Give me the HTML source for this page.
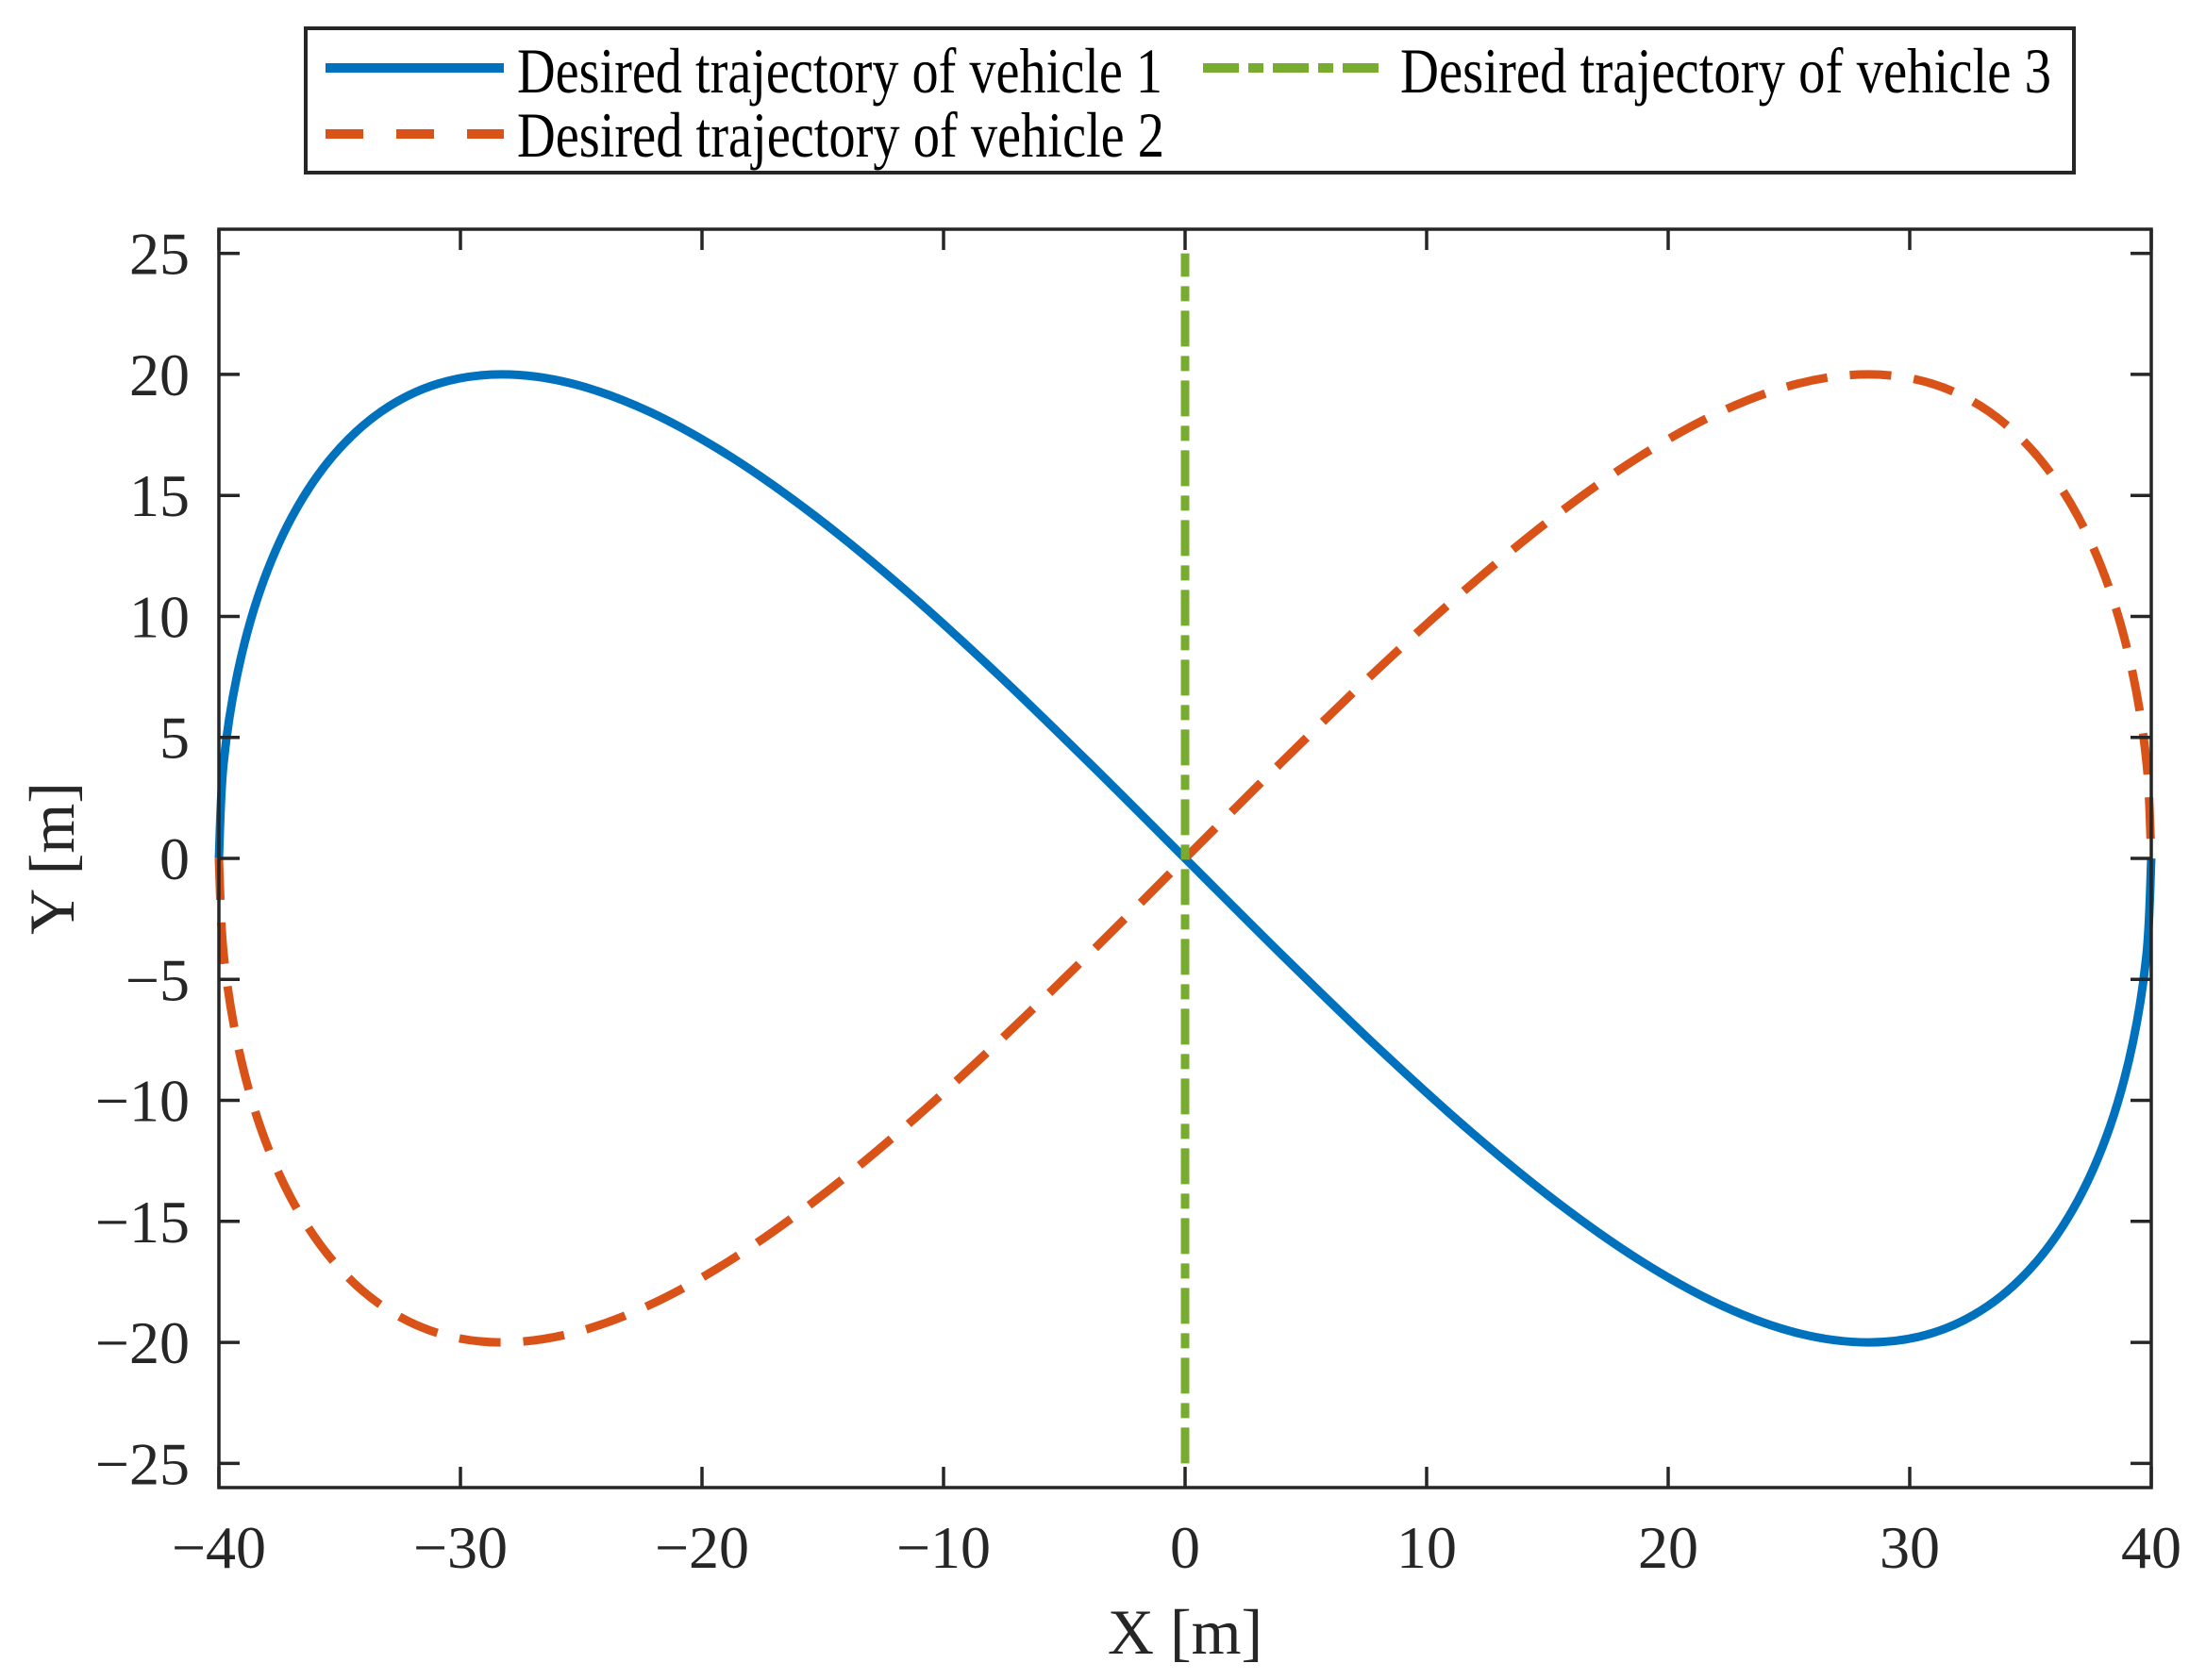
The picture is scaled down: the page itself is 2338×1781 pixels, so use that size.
<!DOCTYPE html>
<html><head><meta charset="utf-8"><style>
html,body{margin:0;padding:0;background:#fff;}
svg{display:block;font-family:"Liberation Serif","DejaVu Serif",serif;}
</style></head><body>
<svg id="chart" width="2338" height="1781" viewBox="0 0 2338 1781" xmlns="http://www.w3.org/2000/svg">
<rect x="0" y="0" width="2338" height="1781" fill="#fff"/>
<g id="plot"></g>
<g id="axes"></g>
<g id="legend">
<rect x="324" y="30" width="1874" height="153" fill="#fff" stroke="#262626" stroke-width="4"/>
<line x1="345" y1="72" x2="534" y2="72" stroke="#0072BD" stroke-width="10"/>
<text x="548" y="98" font-size="68" textLength="684" lengthAdjust="spacingAndGlyphs" fill="#000">Desired trajectory of vehicle 1</text>
<line x1="345" y1="142" x2="534" y2="142" stroke="#D95319" stroke-width="10" stroke-dasharray="40 35"/>
<text x="548" y="166" font-size="68" textLength="686" lengthAdjust="spacingAndGlyphs" fill="#000">Desired trajectory of vehicle 2</text>
<line x1="1275" y1="72" x2="1465" y2="72" stroke="#77AC30" stroke-width="10" stroke-dasharray="38 10 16 10"/>
<text x="1484" y="98" font-size="68" textLength="690" lengthAdjust="spacingAndGlyphs" fill="#000">Desired trajectory of vehicle 3</text>
</g>
</svg>
<script>
const xTicks = [-40,-30,-20,-10,0,10,20,30,40];
const yTicks = [-25,-20,-15,-10,-5,0,5,10,15,20,25];
const v1X = [-40,-39.81,-39.23,-38.28,-36.96,-35.28,-33.26,-30.92,-28.28,-25.38,-22.22,-18.86,-15.31,-11.61,-7.80,-3.92,0,3.92,7.80,11.61,15.31,18.86,22.22,25.38,28.28,30.92,33.26,35.28,36.96,38.28,39.23,39.81,40];
const v1Y = [0,3.90,7.65,11.11,14.14,16.63,18.48,19.62,20,19.62,18.48,16.63,14.14,11.11,7.65,3.90,0,-3.90,-7.65,-11.11,-14.14,-16.63,-18.48,-19.62,-20,-19.62,-18.48,-16.63,-14.14,-11.11,-7.65,-3.90,0];
const v2X = [-40,-39.81,-39.23,-38.28,-36.96,-35.28,-33.26,-30.92,-28.28,-25.38,-22.22,-18.86,-15.31,-11.61,-7.80,-3.92,0,3.92,7.80,11.61,15.31,18.86,22.22,25.38,28.28,30.92,33.26,35.28,36.96,38.28,39.23,39.81,40];
const v2Y = [0,-3.90,-7.65,-11.11,-14.14,-16.63,-18.48,-19.62,-20,-19.62,-18.48,-16.63,-14.14,-11.11,-7.65,-3.90,0,3.90,7.65,11.11,14.14,16.63,18.48,19.62,20,19.62,18.48,16.63,14.14,11.11,7.65,3.90,0];
const v3X = [0,0];
const v3Y = [-25,25];

const NS="http://www.w3.org/2000/svg";
const L=232,R=2280,T=243,B=1577;
const xMin=-40,xMax=40,yMin=-26,yMax=26;
function sx(v){return L+(v-xMin)/(xMax-xMin)*(R-L);}
function sy(v){return B-(v-yMin)/(yMax-yMin)*(B-T);}
function mk(tag,attrs,parent){const e=document.createElementNS(NS,tag);for(const k in attrs)e.setAttribute(k,attrs[k]);parent.appendChild(e);return e;}
const plot=document.getElementById('plot'), axes=document.getElementById('axes');

function smoothPath(xs,ys){
  const p=xs.map((x,i)=>[sx(x),sy(ys[i])]);
  let d='M'+p[0][0]+','+p[0][1];
  for(let i=0;i<p.length-1;i++){
    const p0=p[Math.max(0,i-1)],p1=p[i],p2=p[i+1],p3=p[Math.min(p.length-1,i+2)];
    const c1=[p1[0]+(p2[0]-p0[0])/6,p1[1]+(p2[1]-p0[1])/6];
    const c2=[p2[0]-(p3[0]-p1[0])/6,p2[1]-(p3[1]-p1[1])/6];
    d+=' C'+c1[0]+','+c1[1]+' '+c2[0]+','+c2[1]+' '+p2[0]+','+p2[1];
  }
  return d;
}
let e;
e=mk('path',{d:smoothPath(v1X,v1Y),fill:'none',stroke:'#0072BD','stroke-width':9},plot);


e=mk('path',{d:smoothPath(v2X,v2Y),fill:'none',stroke:'#D95319','stroke-width':9,'stroke-dasharray':'44 24'},plot);


e=mk('line',{x1:sx(v3X[0]),y1:sy(v3Y[0]),x2:sx(v3X[1]),y2:sy(v3Y[1]),stroke:'#77AC30','stroke-width':9,'stroke-dasharray':'38 10 16 10'},plot);



e=mk('rect',{x:L,y:T,width:R-L,height:B-T,fill:'none',stroke:'#262626','stroke-width':3.5},axes);


xTicks.forEach(v=>{
  const x=sx(v);
  let t=mk('path',{d:`M${x},${B}V${B-22}M${x},${T}V${T+22}`,stroke:'#262626','stroke-width':3.5},axes);
  
  
  let tx=mk('text',{x:x,y:1662,'font-size':64,'text-anchor':'middle',fill:'#262626'},axes);
  tx.textContent=v<0?'\u2212'+(-v):String(v);
  
  
});
yTicks.forEach(v=>{
  const y=sy(v);
  let t=mk('path',{d:`M${L},${y}H${L+22}M${R},${y}H${R-22}`,stroke:'#262626','stroke-width':3.5},axes);
  
  
  let tx=mk('text',{x:201,y:y+22,'font-size':64,'text-anchor':'end',fill:'#262626'},axes);
  tx.textContent=v<0?'\u2212'+(-v):String(v);
  
  
});
e=mk('text',{x:(L+R)/2,y:1753,'font-size':68,'text-anchor':'middle',fill:'#262626'},axes);
e.textContent='X [m]';


e=mk('text',{x:0,y:0,'font-size':68,'text-anchor':'middle',fill:'#262626',transform:`translate(78,${(T+B)/2}) rotate(-90)`},axes);
e.textContent='Y [m]';


</script>
</body></html>
